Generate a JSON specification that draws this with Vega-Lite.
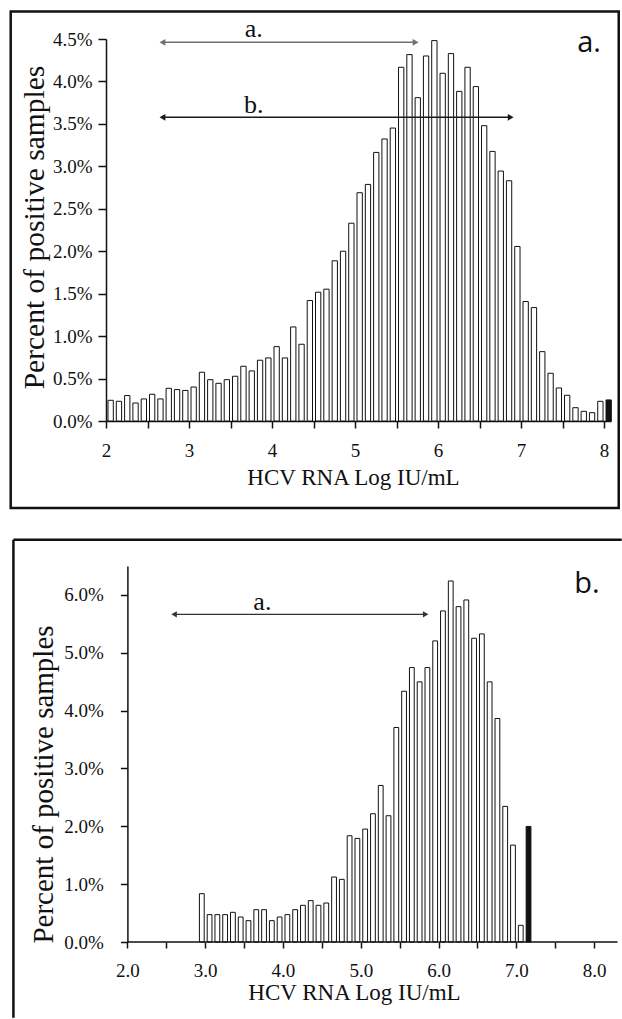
{
  "$schema": "https://vega.github.io/schema/vega-lite/v6.json",
  "padding": {"left": 9, "top": 10, "right": 0, "bottom": 0},
  "spacing": 28,
  "config": {
    "view": {"stroke": null},
    "font": "Liberation Serif",
    "axis": {
      "grid": false,
      "domainColor": "#111",
      "tickColor": "#111",
      "labelColor": "#111",
      "titleColor": "#111",
      "labelFont": "Liberation Serif",
      "titleFont": "Liberation Serif",
      "titleFontWeight": "normal",
      "domainWidth": 1.5,
      "tickWidth": 1.5,
      "labelFlush": false,
      "labelOverlap": false
    },
    "bar": {"binSpacing": 3}
  },
  "datasets": {
    "top": [
      {"lo": 2.0, "hi": 2.1, "pct": 0.244, "kind": "bin"},
      {"lo": 2.1, "hi": 2.2, "pct": 0.232, "kind": "bin"},
      {"lo": 2.2, "hi": 2.3, "pct": 0.300, "kind": "bin"},
      {"lo": 2.3, "hi": 2.4, "pct": 0.212, "kind": "bin"},
      {"lo": 2.4, "hi": 2.5, "pct": 0.260, "kind": "bin"},
      {"lo": 2.5, "hi": 2.6, "pct": 0.315, "kind": "bin"},
      {"lo": 2.6, "hi": 2.7, "pct": 0.260, "kind": "bin"},
      {"lo": 2.7, "hi": 2.8, "pct": 0.385, "kind": "bin"},
      {"lo": 2.8, "hi": 2.9, "pct": 0.370, "kind": "bin"},
      {"lo": 2.9, "hi": 3.0, "pct": 0.360, "kind": "bin"},
      {"lo": 3.0, "hi": 3.1, "pct": 0.400, "kind": "bin"},
      {"lo": 3.1, "hi": 3.2, "pct": 0.574, "kind": "bin"},
      {"lo": 3.2, "hi": 3.3, "pct": 0.487, "kind": "bin"},
      {"lo": 3.3, "hi": 3.4, "pct": 0.444, "kind": "bin"},
      {"lo": 3.4, "hi": 3.5, "pct": 0.487, "kind": "bin"},
      {"lo": 3.5, "hi": 3.6, "pct": 0.527, "kind": "bin"},
      {"lo": 3.6, "hi": 3.7, "pct": 0.645, "kind": "bin"},
      {"lo": 3.7, "hi": 3.8, "pct": 0.590, "kind": "bin"},
      {"lo": 3.8, "hi": 3.9, "pct": 0.716, "kind": "bin"},
      {"lo": 3.9, "hi": 4.0, "pct": 0.743, "kind": "bin"},
      {"lo": 4.0, "hi": 4.1, "pct": 0.876, "kind": "bin"},
      {"lo": 4.1, "hi": 4.2, "pct": 0.743, "kind": "bin"},
      {"lo": 4.2, "hi": 4.3, "pct": 1.108, "kind": "bin"},
      {"lo": 4.3, "hi": 4.4, "pct": 0.904, "kind": "bin"},
      {"lo": 4.4, "hi": 4.5, "pct": 1.419, "kind": "bin"},
      {"lo": 4.5, "hi": 4.6, "pct": 1.517, "kind": "bin"},
      {"lo": 4.6, "hi": 4.7, "pct": 1.553, "kind": "bin"},
      {"lo": 4.7, "hi": 4.8, "pct": 1.887, "kind": "bin"},
      {"lo": 4.8, "hi": 4.9, "pct": 2.000, "kind": "bin"},
      {"lo": 4.9, "hi": 5.0, "pct": 2.330, "kind": "bin"},
      {"lo": 5.0, "hi": 5.1, "pct": 2.689, "kind": "bin"},
      {"lo": 5.1, "hi": 5.2, "pct": 2.787, "kind": "bin"},
      {"lo": 5.2, "hi": 5.3, "pct": 3.164, "kind": "bin"},
      {"lo": 5.3, "hi": 5.4, "pct": 3.322, "kind": "bin"},
      {"lo": 5.4, "hi": 5.5, "pct": 3.451, "kind": "bin"},
      {"lo": 5.5, "hi": 5.6, "pct": 4.167, "kind": "bin"},
      {"lo": 5.6, "hi": 5.7, "pct": 4.316, "kind": "bin"},
      {"lo": 5.7, "hi": 5.8, "pct": 3.809, "kind": "bin"},
      {"lo": 5.8, "hi": 5.9, "pct": 4.300, "kind": "bin"},
      {"lo": 5.9, "hi": 6.0, "pct": 4.481, "kind": "bin"},
      {"lo": 6.0, "hi": 6.1, "pct": 4.096, "kind": "bin"},
      {"lo": 6.1, "hi": 6.2, "pct": 4.328, "kind": "bin"},
      {"lo": 6.2, "hi": 6.3, "pct": 3.883, "kind": "bin"},
      {"lo": 6.3, "hi": 6.4, "pct": 4.167, "kind": "bin"},
      {"lo": 6.4, "hi": 6.5, "pct": 3.939, "kind": "bin"},
      {"lo": 6.5, "hi": 6.6, "pct": 3.479, "kind": "bin"},
      {"lo": 6.6, "hi": 6.7, "pct": 3.176, "kind": "bin"},
      {"lo": 6.7, "hi": 6.8, "pct": 2.944, "kind": "bin"},
      {"lo": 6.8, "hi": 6.9, "pct": 2.830, "kind": "bin"},
      {"lo": 6.9, "hi": 7.0, "pct": 2.056, "kind": "bin"},
      {"lo": 7.0, "hi": 7.1, "pct": 1.407, "kind": "bin"},
      {"lo": 7.1, "hi": 7.2, "pct": 1.336, "kind": "bin"},
      {"lo": 7.2, "hi": 7.3, "pct": 0.817, "kind": "bin"},
      {"lo": 7.3, "hi": 7.4, "pct": 0.562, "kind": "bin"},
      {"lo": 7.4, "hi": 7.5, "pct": 0.389, "kind": "bin"},
      {"lo": 7.5, "hi": 7.6, "pct": 0.303, "kind": "bin"},
      {"lo": 7.6, "hi": 7.7, "pct": 0.157, "kind": "bin"},
      {"lo": 7.7, "hi": 7.8, "pct": 0.114, "kind": "bin"},
      {"lo": 7.8, "hi": 7.9, "pct": 0.098, "kind": "bin"},
      {"lo": 7.9, "hi": 8.0, "pct": 0.232, "kind": "bin"},
      {"lo": 8.0, "hi": 8.1, "pct": 0.248, "kind": "max"}
    ],
    "bottom": [
      {"lo": 2.9, "hi": 3.0, "pct": 0.836, "kind": "bin"},
      {"lo": 3.0, "hi": 3.1, "pct": 0.473, "kind": "bin"},
      {"lo": 3.1, "hi": 3.2, "pct": 0.473, "kind": "bin"},
      {"lo": 3.2, "hi": 3.3, "pct": 0.473, "kind": "bin"},
      {"lo": 3.3, "hi": 3.4, "pct": 0.513, "kind": "bin"},
      {"lo": 3.4, "hi": 3.5, "pct": 0.432, "kind": "bin"},
      {"lo": 3.5, "hi": 3.6, "pct": 0.369, "kind": "bin"},
      {"lo": 3.6, "hi": 3.7, "pct": 0.559, "kind": "bin"},
      {"lo": 3.7, "hi": 3.8, "pct": 0.559, "kind": "bin"},
      {"lo": 3.8, "hi": 3.9, "pct": 0.369, "kind": "bin"},
      {"lo": 3.9, "hi": 4.0, "pct": 0.432, "kind": "bin"},
      {"lo": 4.0, "hi": 4.1, "pct": 0.473, "kind": "bin"},
      {"lo": 4.1, "hi": 4.2, "pct": 0.559, "kind": "bin"},
      {"lo": 4.2, "hi": 4.3, "pct": 0.634, "kind": "bin"},
      {"lo": 4.3, "hi": 4.4, "pct": 0.715, "kind": "bin"},
      {"lo": 4.4, "hi": 4.5, "pct": 0.634, "kind": "bin"},
      {"lo": 4.5, "hi": 4.6, "pct": 0.674, "kind": "bin"},
      {"lo": 4.6, "hi": 4.7, "pct": 1.123, "kind": "bin"},
      {"lo": 4.7, "hi": 4.8, "pct": 1.083, "kind": "bin"},
      {"lo": 4.8, "hi": 4.9, "pct": 1.837, "kind": "bin"},
      {"lo": 4.9, "hi": 5.0, "pct": 1.791, "kind": "bin"},
      {"lo": 5.0, "hi": 5.1, "pct": 1.952, "kind": "bin"},
      {"lo": 5.1, "hi": 5.2, "pct": 2.217, "kind": "bin"},
      {"lo": 5.2, "hi": 5.3, "pct": 2.706, "kind": "bin"},
      {"lo": 5.3, "hi": 5.4, "pct": 2.183, "kind": "bin"},
      {"lo": 5.4, "hi": 5.5, "pct": 3.708, "kind": "bin"},
      {"lo": 5.5, "hi": 5.6, "pct": 4.335, "kind": "bin"},
      {"lo": 5.6, "hi": 5.7, "pct": 4.744, "kind": "bin"},
      {"lo": 5.7, "hi": 5.8, "pct": 4.497, "kind": "bin"},
      {"lo": 5.8, "hi": 5.9, "pct": 4.744, "kind": "bin"},
      {"lo": 5.9, "hi": 6.0, "pct": 5.205, "kind": "bin"},
      {"lo": 6.0, "hi": 6.1, "pct": 5.723, "kind": "bin"},
      {"lo": 6.1, "hi": 6.2, "pct": 6.241, "kind": "bin"},
      {"lo": 6.2, "hi": 6.3, "pct": 5.797, "kind": "bin"},
      {"lo": 6.3, "hi": 6.4, "pct": 5.913, "kind": "bin"},
      {"lo": 6.4, "hi": 6.5, "pct": 5.251, "kind": "bin"},
      {"lo": 6.5, "hi": 6.6, "pct": 5.326, "kind": "bin"},
      {"lo": 6.6, "hi": 6.7, "pct": 4.497, "kind": "bin"},
      {"lo": 6.7, "hi": 6.8, "pct": 3.864, "kind": "bin"},
      {"lo": 6.8, "hi": 6.9, "pct": 2.344, "kind": "bin"},
      {"lo": 6.9, "hi": 7.0, "pct": 1.675, "kind": "bin"},
      {"lo": 7.0, "hi": 7.1, "pct": 0.288, "kind": "bin"},
      {"lo": 7.1, "hi": 7.2, "pct": 1.998, "kind": "max"}
    ],
    "topArrows": [
      {"name": "a.", "from": 2.68, "to": 5.73, "level": 4.461, "textX": 3.78, "textY": 4.52},
      {"name": "b.", "from": 2.68, "to": 6.876, "level": 3.577, "textX": 3.78, "textY": 3.624}
    ],
    "bottomArrows": [
      {"name": "a.", "from": 2.6, "to": 5.834, "level": 5.665, "textX": 3.735, "textY": 5.741}
    ],
    "topPanel": [{"panel": "a.", "px": 7.82, "py": 4.343}],
    "bottomPanel": [{"panel": "b.", "px": 7.907, "py": 6.028}]
  },
  "vconcat": [
    {
      "width": 505,
      "height": 382,
      "layer": [
        {
          "data": {"name": "top"},
          "mark": {"type": "bar", "stroke": "#111", "strokeWidth": 1},
          "encoding": {
            "x": {
              "field": "lo", "type": "quantitative", "bin": "binned",
              "scale": {"domain": [2, 8.084], "nice": false, "zero": false},
              "title": "HCV RNA Log IU/mL",
              "axis": {
                "values": [2, 2.5, 3, 3.5, 4, 4.5, 5, 5.5, 6, 6.5, 7, 7.5, 8],
                "labelExpr": "datum.value % 1 === 0 ? format(datum.value, 'd') : ''",
                "tickSize": 7, "labelFontSize": 19, "labelPadding": 13, "labelDx": 4,
                "titleFont": "Liberation Serif",
                "titleFontSize": 23, "titleX": 247, "titleY": 63, "titleBaseline": "alphabetic", "titleAlign": "center"
              }
            },
            "x2": {"field": "hi"},
            "y": {
              "field": "pct", "type": "quantitative",
              "scale": {"domain": [0, 4.5], "nice": false},
              "title": "Percent of positive samples",
              "axis": {
                "values": [0, 0.5, 1, 1.5, 2, 2.5, 3, 3.5, 4, 4.5],
                "labelExpr": "format(datum.value, '.1f') + '%'",
                "tickSize": 8, "labelFontSize": 19, "labelPadding": 6,
                "titleFont": "Liberation Serif",
                "titleFontSize": 29.5, "titleAngle": 270, "titleX": -63, "titleY": 188,
                "titleAlign": "center", "titleBaseline": "alphabetic"
              }
            },
            "fill": {"field": "kind", "type": "nominal", "scale": {"domain": ["bin", "max"], "range": ["white", "#111"]}, "legend": null}
          }
        },
        {
          "data": {"values": [{}]},
          "mark": {"type": "rect", "fill": null, "stroke": "#111", "strokeWidth": 2.5},
          "encoding": {
            "x": {"datum": 0.852, "type": "quantitative"},
            "x2": {"datum": 8.177},
            "y": {"datum": 4.823, "type": "quantitative"},
            "y2": {"datum": -1.026}
          }
        },
        {
          "data": {"name": "topArrows"},
          "mark": {"type": "rule", "strokeWidth": 1.5},
          "encoding": {
            "x": {"field": "from", "type": "quantitative"},
            "x2": {"field": "to"},
            "y": {"field": "level", "type": "quantitative"},
            "color": {"field": "name", "type": "nominal", "scale": {"domain": ["a.", "b."], "range": ["#707070", "#1a1a1a"]}, "legend": null}
          }
        },
        {
          "data": {"name": "topArrows"},
          "mark": {"type": "point", "shape": "triangle-left", "filled": true, "size": 45, "opacity": 1},
          "encoding": {
            "x": {"field": "from", "type": "quantitative"},
            "y": {"field": "level", "type": "quantitative"},
            "color": {"field": "name", "type": "nominal", "legend": null}
          }
        },
        {
          "data": {"name": "topArrows"},
          "mark": {"type": "point", "shape": "triangle-right", "filled": true, "size": 45, "opacity": 1},
          "encoding": {
            "x": {"field": "to", "type": "quantitative"},
            "y": {"field": "level", "type": "quantitative"},
            "color": {"field": "name", "type": "nominal", "legend": null}
          }
        },
        {
          "data": {"name": "topArrows"},
          "mark": {"type": "text", "font": "Liberation Serif", "fontSize": 26, "baseline": "alphabetic", "align": "center", "color": "#111"},
          "encoding": {
            "x": {"field": "textX", "type": "quantitative"},
            "y": {"field": "textY", "type": "quantitative"},
            "text": {"field": "name"}
          }
        },
        {
          "data": {"name": "topPanel"},
          "mark": {"type": "text", "font": "Open Sans", "fontSize": 29, "baseline": "alphabetic", "align": "center", "color": "#111"},
          "encoding": {
            "x": {"field": "px", "type": "quantitative"},
            "y": {"field": "py", "type": "quantitative"},
            "text": {"field": "panel"}
          }
        }
      ]
    },
    {
      "width": 511.5,
      "height": 376,
      "layer": [
        {
          "data": {"name": "bottom"},
          "mark": {"type": "bar", "stroke": "#111", "strokeWidth": 1},
          "encoding": {
            "x": {
              "field": "lo", "type": "quantitative", "bin": "binned",
              "scale": {"domain": [1.725, 8.3], "nice": false, "zero": false},
              "title": "HCV RNA Log IU/mL",
              "axis": {
                "domain": false,
                "values": [2, 2.5, 3, 3.5, 4, 4.5, 5, 5.5, 6, 6.5, 7, 7.5, 8],
                "labelExpr": "datum.value % 1 === 0 ? format(datum.value, '.1f') : ''",
                "tickSize": 6, "labelFontSize": 19, "labelPadding": 13, "labelDx": 8,
                "titleFont": "Liberation Serif",
                "titleFontSize": 23, "titleX": 248, "titleY": 57.6, "titleBaseline": "alphabetic", "titleAlign": "center"
              }
            },
            "x2": {"field": "hi"},
            "y": {
              "field": "pct", "type": "quantitative",
              "scale": {"domain": [0, 6.5], "nice": false},
              "title": "Percent of positive samples",
              "axis": {
                "offset": -21.4,
                "values": [0, 1, 2, 3, 4, 5, 6],
                "labelExpr": "format(datum.value, '.1f') + '%'",
                "tickSize": 7, "labelFontSize": 19, "labelPadding": 17, "labelDy": 2,
                "titleFont": "Liberation Serif",
                "titleFontSize": 29, "titleAngle": 270, "titleX": -74.5, "titleY": 218,
                "titleAlign": "center", "titleBaseline": "alphabetic"
              }
            },
            "fill": {"field": "kind", "type": "nominal", "scale": {"domain": ["bin", "max"], "range": ["white", "#111"]}, "legend": null}
          }
        },
        {
          "data": {"values": [{}]},
          "mark": {"type": "rule", "stroke": "#111", "strokeWidth": 1.5},
          "encoding": {
            "x": {"datum": 2.0, "type": "quantitative"},
            "x2": {"datum": 8.3},
            "y": {"datum": 0, "type": "quantitative"}
          }
        },
        {
          "data": {"values": [{}]},
          "mark": {"type": "rule", "stroke": "#111", "strokeWidth": 2.5},
          "encoding": {
            "x": {"datum": 0.535, "type": "quantitative"},
            "x2": {"datum": 8.354},
            "y": {"datum": 6.955, "type": "quantitative"}
          }
        },
        {
          "data": {"values": [{}]},
          "mark": {"type": "rule", "stroke": "#111", "strokeWidth": 2.5},
          "encoding": {
            "x": {"datum": 0.535, "type": "quantitative"},
            "y": {"datum": 6.955, "type": "quantitative"},
            "y2": {"datum": -1.31}
          }
        },
        {
          "data": {"name": "bottomArrows"},
          "mark": {"type": "rule", "strokeWidth": 1.2, "color": "#333"},
          "encoding": {
            "x": {"field": "from", "type": "quantitative"},
            "x2": {"field": "to"},
            "y": {"field": "level", "type": "quantitative"}
          }
        },
        {
          "data": {"name": "bottomArrows"},
          "mark": {"type": "point", "shape": "triangle-left", "filled": true, "size": 40, "opacity": 1, "color": "#333"},
          "encoding": {
            "x": {"field": "from", "type": "quantitative"},
            "y": {"field": "level", "type": "quantitative"}
          }
        },
        {
          "data": {"name": "bottomArrows"},
          "mark": {"type": "point", "shape": "triangle-right", "filled": true, "size": 40, "opacity": 1, "color": "#333"},
          "encoding": {
            "x": {"field": "to", "type": "quantitative"},
            "y": {"field": "level", "type": "quantitative"}
          }
        },
        {
          "data": {"name": "bottomArrows"},
          "mark": {"type": "text", "font": "Liberation Serif", "fontSize": 26, "baseline": "alphabetic", "align": "center", "color": "#111"},
          "encoding": {
            "x": {"field": "textX", "type": "quantitative"},
            "y": {"field": "textY", "type": "quantitative"},
            "text": {"field": "name"}
          }
        },
        {
          "data": {"name": "bottomPanel"},
          "mark": {"type": "text", "font": "Open Sans", "fontSize": 29, "baseline": "alphabetic", "align": "center", "color": "#111"},
          "encoding": {
            "x": {"field": "px", "type": "quantitative"},
            "y": {"field": "py", "type": "quantitative"},
            "text": {"field": "panel"}
          }
        }
      ]
    }
  ]
}
